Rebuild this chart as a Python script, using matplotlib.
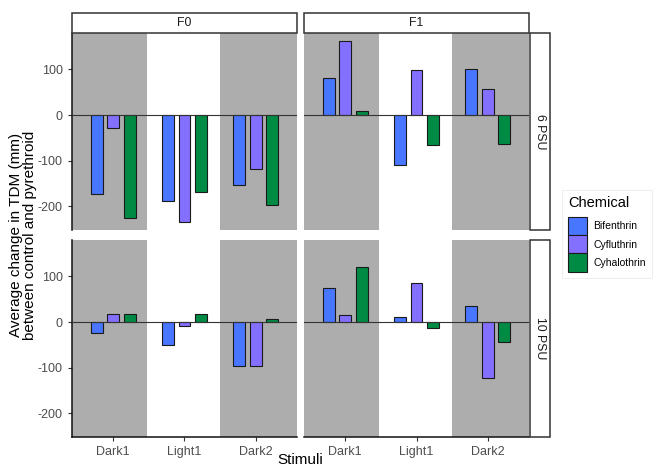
import numpy as np
import matplotlib.pyplot as plt
from matplotlib.patches import Patch, Rectangle

plt.rcParams['font.family'] = ['Liberation Sans', 'DejaVu Sans']
plt.rcParams['axes.unicode_minus'] = False

stimuli = ["Dark1", "Light1", "Dark2"]
chemicals = ["Bifenthrin", "Cyfluthrin", "Cyhalothrin"]
generations = ["F0", "F1"]
salinities = ["6 PSU", "10 PSU"]
colors = ["#4876FF", "#8470FF", "#008B45"]

# one row per chemical, values for Dark1, Light1, Dark2
f0_6psu = [[-173, -189, -154], [-29, -235, -118], [-225, -168, -198]]
f1_6psu = [[81, -109, 101], [162, 98, 58], [10, -65, -63]]
f0_10psu = [[-25, -50, -97], [18, -8, -97], [18, 17, 7]]
f1_10psu = [[75, 12, 35], [15, 85, -123], [120, -13, -43]]

panels = {(0, 0): f0_6psu, (0, 1): f1_6psu, (1, 0): f0_10psu, (1, 1): f1_10psu}

W, H = 654, 468
fig = plt.figure(figsize=(W / 100, H / 100), dpi=100)

col_x = [(72, 297), (304, 529)]
row_y = [(33, 230), (240, 437)]
xlim = (0.42, 3.58)
ylim = (-252, 180)
dodge = 0.233
bw = 0.166


def fbox(x0, y0, x1, y1):
    return [x0 / W, 1 - y1 / H, (x1 - x0) / W, (y1 - y0) / H]


for (r, c), vals in panels.items():
    ax = fig.add_axes(fbox(col_x[c][0], row_y[r][0], col_x[c][1], row_y[r][1]))
    ax.set_xlim(*xlim)
    ax.set_ylim(*ylim)
    # dark stimuli shading
    ax.axvspan(xlim[0], 1.47, color="#ADADAD", lw=0, zorder=0)
    ax.axvspan(2.5, xlim[1], color="#ADADAD", lw=0, zorder=0)
    x = np.arange(1, len(stimuli) + 1)
    for i, chem in enumerate(chemicals):
        ax.bar(x + (i - 1) * dodge, vals[i], width=bw, color=colors[i],
               edgecolor="#1a1a1a", linewidth=0.8, zorder=2)
    ax.axhline(0, color="#333333", lw=0.8, zorder=3)
    for s in ax.spines.values():
        s.set_visible(False)
    ax.tick_params(colors="#333333", labelcolor="#4D4D4D", labelsize=9,
                   length=3, width=0.8)
    ax.set_yticks([-200, -100, 0, 100])
    ax.set_xticks(x)
    ax.set_xticklabels(stimuli)
    if c == 0:
        ax.spines['left'].set_visible(True)
        ax.spines['left'].set_linewidth(1.1)
        ax.spines['left'].set_color("#111111")
    else:
        ax.tick_params(axis='y', left=False, labelleft=False)
    if r == 1:
        ax.spines['bottom'].set_visible(True)
        ax.spines['bottom'].set_linewidth(1.1)
        ax.spines['bottom'].set_color("#111111")
    else:
        ax.tick_params(axis='x', bottom=False, labelbottom=False)

# strips
for c, g in enumerate(generations):
    x0, x1 = col_x[c]
    fig.patches.append(Rectangle((x0 / W, 1 - 33 / H), (x1 - x0) / W, 20 / H,
                                 transform=fig.transFigure, facecolor="white",
                                 edgecolor="#333333", lw=1.1))
    fig.text((x0 + x1) / 2 / W, 1 - 23 / H, g, ha="center", va="center",
             fontsize=8.8, color="#1A1A1A")
for r, s in enumerate(salinities):
    y0, y1 = row_y[r]
    fig.patches.append(Rectangle((530 / W, 1 - y1 / H), 20 / W, (y1 - y0) / H,
                                 transform=fig.transFigure, facecolor="white",
                                 edgecolor="#333333", lw=1.1))
    fig.text(540 / W, 1 - (y0 + y1) / 2 / H, s, ha="center", va="center",
             rotation=270, fontsize=8.8, color="#1A1A1A")

fig.text(23 / W, 1 - 235 / H, "Average change in TDM (mm)\nbetween control and pyrethroid",
         rotation=90, ha="center", va="center", fontsize=11, linespacing=1.05)
fig.text(300 / W, 1 - 460 / H, "Stimuli", ha="center", va="center", fontsize=11)

handles = [Patch(facecolor=colors[i], edgecolor="#1a1a1a", lw=0.8, label=chemicals[i])
           for i in range(3)]
leg = fig.legend(handles=handles, title="Chemical", loc="upper left",
                 bbox_to_anchor=(562 / W, 1 - 190 / H), fontsize=7.5,
                 title_fontsize=10.5, frameon=True, fancybox=False,
                 handlelength=1.8, handleheight=2.3, labelspacing=0.0,
                 handletextpad=0.6, borderpad=0.6, borderaxespad=0)
leg.get_frame().set_edgecolor("#EBEBEB")
leg.get_frame().set_linewidth(0.8)
leg._legend_box.align = "left"
leg._legend_box.sep = 5

fig.savefig("out.png", dpi=100)
